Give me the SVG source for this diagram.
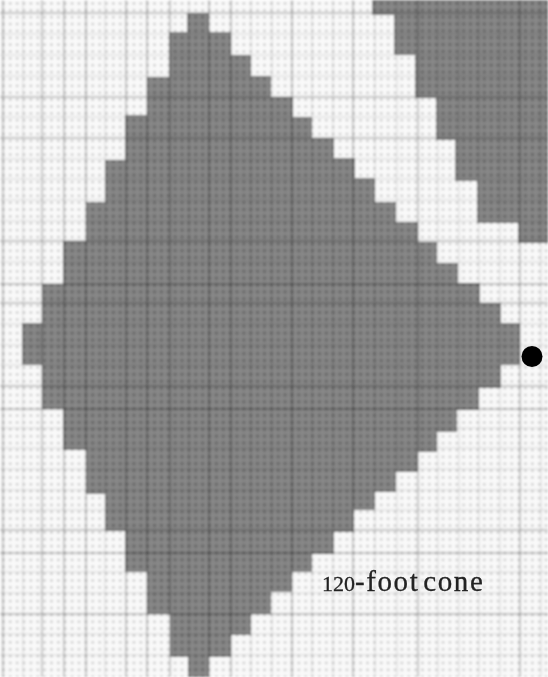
<svg xmlns="http://www.w3.org/2000/svg" width="548" height="677" viewBox="0 0 548 677">
<style>
.v,.h{stroke:#000;stroke-width:2.4;stroke-opacity:.17;fill:none}
.f{stroke-opacity:.06}
.label{font-family:"Liberation Serif",serif;font-size:29px;letter-spacing:1.6px;word-spacing:-5px;fill:#222;stroke:#222;stroke-width:.3}
.num{font-size:22px;letter-spacing:0}
</style>
<defs>
<pattern id="lt" width="6.87" height="6.87" patternUnits="userSpaceOnUse">
<rect width="6.87" height="6.87" fill="#f9f9f9"/>
<circle cx="3.4" cy="3.4" r="1.3" fill="#c4c4c4"/>
</pattern>
<pattern id="dk" width="6.87" height="6.87" patternUnits="userSpaceOnUse">
<rect width="6.87" height="6.87" fill="#888888"/>
<circle cx="3.4" cy="3.4" r="2.4" fill="#787878"/>
<circle cx="3.4" cy="3.4" r="1.1" fill="#646464"/>
</pattern>
<filter id="soft" x="0" y="0" width="1" height="1"><feGaussianBlur stdDeviation=".9"/></filter>
<filter id="softer" x="-5%" y="-5%" width="110%" height="110%"><feGaussianBlur stdDeviation=".6"/></filter>
</defs>
<g filter="url(#soft)">
<rect id="ground" width="548" height="677" fill="url(#lt)"/>
<polygon id="cone-main" fill="url(#dk)" points="187,13 209,13 209,32 231,32 231,55 251,55 251,76 271,76 271,97 293,97 293,117 312,117 312,138 334,138 334,158 355,158 355,178 375,178 375,202 396,202 396,222 418,222 418,242 437,242 437,263 458,263 458,283 480,283 480,303 501,303 501,323 520,323 520,365 501,365 501,388 479,388 479,410 457,410 457,432 437,432 437,452 418,452 418,472 396,472 396,492 375,492 375,510 354,510 354,532 334,532 334,554 312,554 312,572 292,572 292,592 271,592 271,614 251,614 251,635 231,635 231,657 209,657 209,677 188,677 188,657 170,657 170,614 147,614 147,572 125,572 125,531 105,531 105,494 86,494 86,450 63,450 63,409 42,409 42,365 22,365 22,323 42,323 42,284 63,284 63,241 86,241 86,202 105,202 105,160 125,160 125,115 147,115 147,77 169,77 169,32 187,32"/>
<polygon id="cone-corner" fill="url(#dk)" points="372,0 548,0 548,243 518,243 518,223 477,223 477,181 455,181 455,140 436,140 436,98 415,98 415,55 394,55 394,15 372,15"/>
<g id="grid">
<path class="v" d="M3 0V677M42 0V677M64 0V677M86 0V677M126 0V677M147 0V677M170 0V677M209 0V677M231 0V677M292 0V677M353 0V677M418 0V677M520 0V677"/>
<path class="v f" d="M23 0V677M105 0V677M189 0V677M251 0V677M272 0V677M312 0V677M333 0V677M375 0V677M397 0V677M438 0V677M459 0V677M479 0V677M500 0V677M541 0V677"/>
<path class="h" d="M0 13H548M0 97H548M0 138H548M0 241H548M0 284H548M0 303H548M0 386H548M0 409H548M0 530H548M0 553H548M0 614H548"/>
<path class="h f" d="M0 34H548M0 55H548M0 76H548M0 117H548M0 159H548M0 179H548M0 200H548M0 221H548M0 262H548M0 324H548M0 345H548M0 365H548M0 428H548M0 448H548M0 469H548M0 490H548M0 510H548M0 572H548M0 593H548M0 634H548M0 655H548"/>
</g>
</g>
<g id="origin" filter="url(#softer)"><circle cx="532" cy="356.500" r="10.500" fill="#000"/></g>
<g id="caption" filter="url(#softer)"><text class="label" x="322" y="591"><tspan class="num">120</tspan>-foot cone</text></g>
</svg>
